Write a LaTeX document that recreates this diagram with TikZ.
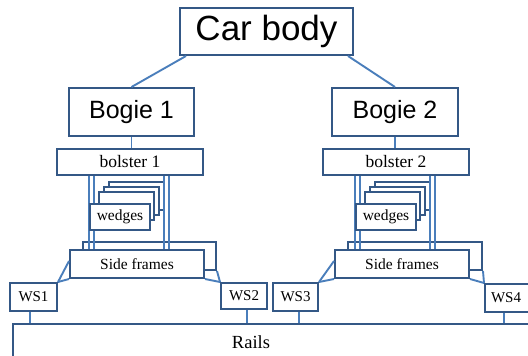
\documentclass[tikz,border=0pt]{standalone}
\usepackage{fontspec}
\setmainfont{Liberation Serif}
\newfontfamily\arialfont{Liberation Sans}
\usetikzlibrary{shapes,positioning}
\definecolor{boxblue}{RGB}{52,88,134}
\definecolor{wireblue}{RGB}{74,126,187}

\begin{document}
\begin{tikzpicture}[x=1pt,y=-1pt,
  box/.style={draw=boxblue,line width=2pt,fill=white,inner sep=0pt},
  bigbox/.style={box,font=\arialfont\fontsize{25}{25}\selectfont},
  partbox/.style={box,font=\fontsize{15.5}{15.5}\selectfont},
  backbox/.style={box,minimum width=55pt,minimum height=28pt},
  wire/.style={draw=wireblue,line width=1.9pt}]
\useasboundingbox (0,0) rectangle (528,356);

% car body and the two bogies
\node [bigbox,minimum width=173pt,minimum height=47pt,font=\arialfont\fontsize{35}{35}\selectfont] (car) at (266.5,31.5) {Car body};
\node [bigbox,minimum width=125pt,minimum height=48pt] (bogA) at (131.5,112) {Bogie 1};
\node [bigbox,minimum width=126pt,minimum height=48pt] (bogB) at (395,112) {Bogie 2};
\draw [wire] ([xshift=7pt]car.south west) -- (bogA.north);
\draw [wire] ([xshift=-6pt]car.south east) -- (bogB.north);

% bolsters
\node [box,minimum width=146pt,minimum height=26pt,font=\fontsize{17.5}{17.5}\selectfont] (bolA) at (130,162) {bolster 1};
\node [box,minimum width=146pt,minimum height=26pt,font=\fontsize{17.5}{17.5}\selectfont] (bolB) at (396,162) {bolster 2};
\draw [wire] (bogA.south) -- (bogA.south |- bolA.north);
\draw [wire] (bogB.south) -- (bogB.south |- bolB.north);

% side frames seen behind
\node [box,minimum width=133pt,minimum height=28pt] (sideAb) at (149.5,256) {};
\node [box,minimum width=134pt,minimum height=28pt] (sideBb) at (415,256) {};

% stacked wedges
\foreach \k in {3,2,1} {
  \node [backbox] (wedA\k) at ({121.5+5*\k},{211-5*\k}) {};
  \node [backbox] (wedB\k) at ({387.5+5*\k},{211-5*\k}) {};
}

% bolster to side frame links
\foreach \dx in {33,38,108,113} {
  \draw [wire] ([xshift=\dx pt]bolA.south west) -- ([xshift=\dx pt]bolA.south west |- sideAb.south);
  \draw [wire] ([xshift=\dx pt]bolB.south west) -- ([xshift=\dx pt]bolB.south west |- sideBb.south);
}

\node [partbox,minimum width=60pt,minimum height=26pt] (wedA) at (120,217) {wedges};
\node [partbox,minimum width=60pt,minimum height=26pt] (wedB) at (386,217) {wedges};
\node [partbox,minimum width=134pt,minimum height=28pt] (sideA) at (137,264) {Side frames};
\node [partbox,minimum width=134pt,minimum height=28pt] (sideB) at (402,264) {Side frames};

% rails and wheelsets
\node [box,anchor=north west,minimum width=540pt,minimum height=45pt] (rails) at (12,323) {};
\node [font=\fontsize{18.5}{18.5}\selectfont] (railtxt) at (251,342) {Rails};

\node [partbox,font=\fontsize{15}{15}\selectfont,minimum width=47pt,minimum height=28pt] (wsA) at (33.5,297) {WS1};
\node [partbox,font=\fontsize{15}{15}\selectfont,minimum width=46pt,minimum height=26pt] (wsB) at (244,296) {WS2};
\node [partbox,font=\fontsize{15}{15}\selectfont,minimum width=45pt,minimum height=28pt] (wsC) at (295.5,297) {WS3};
\node [partbox,font=\fontsize{15}{15}\selectfont,anchor=north west,text width=48pt,align=left,inner xsep=6pt,minimum height=28pt] (wsD) at (484,283) {WS4};

\draw [wire] ([xshift=-3.5pt]wsA.south) -- ([xshift=-3.5pt]wsA.south |- rails.north);
\draw [wire] ([xshift=3pt]wsB.south) -- ([xshift=3pt]wsB.south |- rails.north);
\draw [wire] ([xshift=3.5pt]wsC.south) -- ([xshift=3.5pt]wsC.south |- rails.north);
\draw [wire] ([xshift=20pt]wsD.south west) -- ([xshift=20pt]wsD.south west |- rails.north);

\draw [wire] (wsA.north east) -- (sideA.south west);
\draw [wire] (wsA.north east) -- ([yshift=3pt]sideA.west);
\draw [wire] (wsB.north west) -- (sideA.south east);
\draw [wire] (wsB.north west) -- (sideAb.south east);
\draw [wire] (wsC.north east) -- (sideB.south west);
\draw [wire] (wsC.north east) -- ([yshift=3pt]sideB.west);
\draw [wire] (wsD.north west) -- (sideB.south east);
\draw [wire] (wsD.north west) -- (sideBb.south east);

\end{tikzpicture}
\end{document}
